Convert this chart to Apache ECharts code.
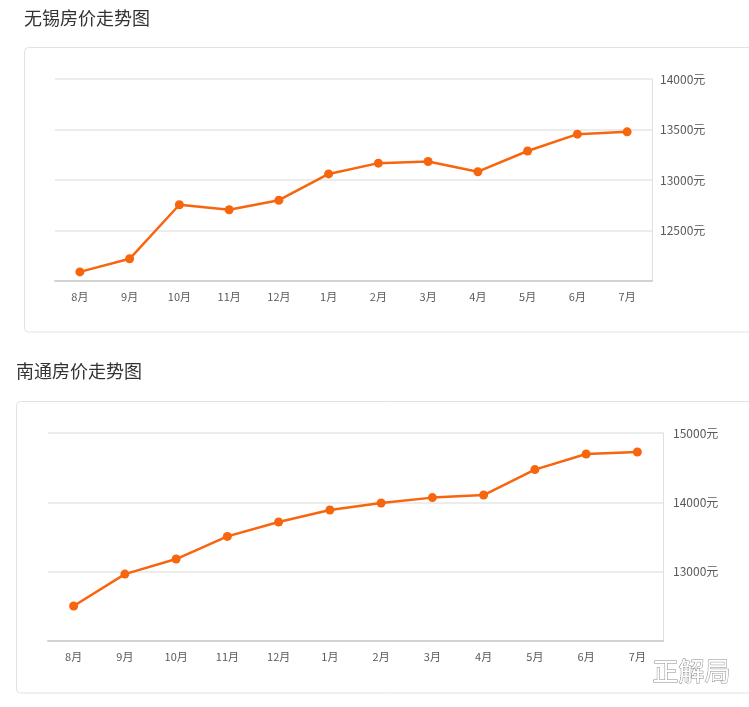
<!DOCTYPE html>
<html>
<head>
<meta charset="utf-8">
<title>房价走势图</title>
<script src="https://cdn.jsdelivr.net/npm/echarts@6/dist/echarts.min.js"></script>
<style>
  html, body { margin: 0; padding: 0; background: #fff; }
  #chart { width: 749px; height: 707px; }
</style>
</head>
<body>
<div id="chart"></div>
<script>
// 月份
const months = ['8月', '9月', '10月', '11月', '12月', '1月', '2月', '3月', '4月', '5月', '6月', '7月'];

// 无锡房价 (元/平方米)
const wuxiPrices = [12090, 12220, 12755, 12705, 12800, 13060, 13167, 13183, 13082, 13287, 13454, 13477];

// 南通房价 (元/平方米)
const nantongPrices = [12504, 12965, 13182, 13509, 13716, 13889, 13990, 14068, 14105, 14472, 14697, 14726];

const wuxiTitle = '无锡房价走势图';
const nantongTitle = '南通房价走势图';

const LINE_COLOR = '#f8650f';
const FONT = '"Noto Sans CJK SC", "Noto Sans", sans-serif';

const chart = echarts.init(document.getElementById('chart'));

function xAxisOf(gridIndex) {
  return {
    type: 'category',
    gridIndex,
    data: months,
    boundaryGap: true,
    axisLine: { lineStyle: { color: '#d2d2d2', width: 2 } },
    axisTick: { alignWithLabel: true, length: 4, lineStyle: { color: '#d8d8d8' } },
    axisLabel: { color: '#5a5a5a', fontSize: 11, fontFamily: FONT, margin: 10 },
    splitLine: { show: false }
  };
}

function yAxisOf(gridIndex, min, max, interval, margin) {
  return {
    type: 'value',
    gridIndex,
    position: 'right',
    min,
    max,
    interval,
    axisLine: { show: true, lineStyle: { color: '#e0e0e0' } },
    axisTick: { show: false },
    axisLabel: {
      color: '#5a5a5a',
      fontSize: 12,
      fontFamily: FONT,
      margin,
      showMinLabel: false,
      formatter: v => v + '元'
    },
    splitLine: { lineStyle: { color: '#e6e6e6', width: 1.5 } }
  };
}

function seriesOf(index, data) {
  return {
    type: 'line',
    xAxisIndex: index,
    yAxisIndex: index,
    data,
    symbol: 'circle',
    symbolSize: 9,
    lineStyle: { color: LINE_COLOR, width: 2.5 },
    itemStyle: { color: LINE_COLOR },
    animation: false
  };
}

const option = {
  backgroundColor: '#fff',
  animation: false,
  title: [
    {
      text: wuxiTitle,
      left: 24,
      top: 9,
      padding: 0,
      textStyle: { color: '#333', fontSize: 18, fontWeight: 'normal', fontFamily: FONT }
    },
    {
      text: nantongTitle,
      left: 16,
      top: 362,
      padding: 0,
      textStyle: { color: '#333', fontSize: 18, fontWeight: 'normal', fontFamily: FONT }
    }
  ],
  grid: [
    { left: 55, top: 79, width: 597, height: 202 },
    { left: 48, top: 433, width: 615, height: 208 }
  ],
  xAxis: [xAxisOf(0), xAxisOf(1)],
  yAxis: [
    yAxisOf(0, 12000, 14000, 500, 8),
    yAxisOf(1, 12000, 15000, 1000, 10)
  ],
  series: [seriesOf(0, wuxiPrices), seriesOf(1, nantongPrices)],
  graphic: [
    {
      type: 'rect',
      z: -10,
      silent: true,
      shape: { x: 24.5, y: 47.5, width: 760, height: 284.5, r: 4 },
      style: { fill: '#fff', stroke: '#e2e2e2', lineWidth: 1 }
    },
    {
      type: 'rect',
      z: -10,
      silent: true,
      shape: { x: 16.5, y: 401.5, width: 770, height: 291.5, r: 4 },
      style: { fill: '#fff', stroke: '#e2e2e2', lineWidth: 1 }
    },
    {
      type: 'text',
      z: 100,
      silent: true,
      left: 652,
      top: 658,
      style: {
        text: '正解局',
        fill: '#fff',
        stroke: '#8c8c8c',
        lineWidth: 1,
        font: '26px ' + FONT
      }
    }
  ]
};

chart.setOption(option);
</script>
</body>
</html>
